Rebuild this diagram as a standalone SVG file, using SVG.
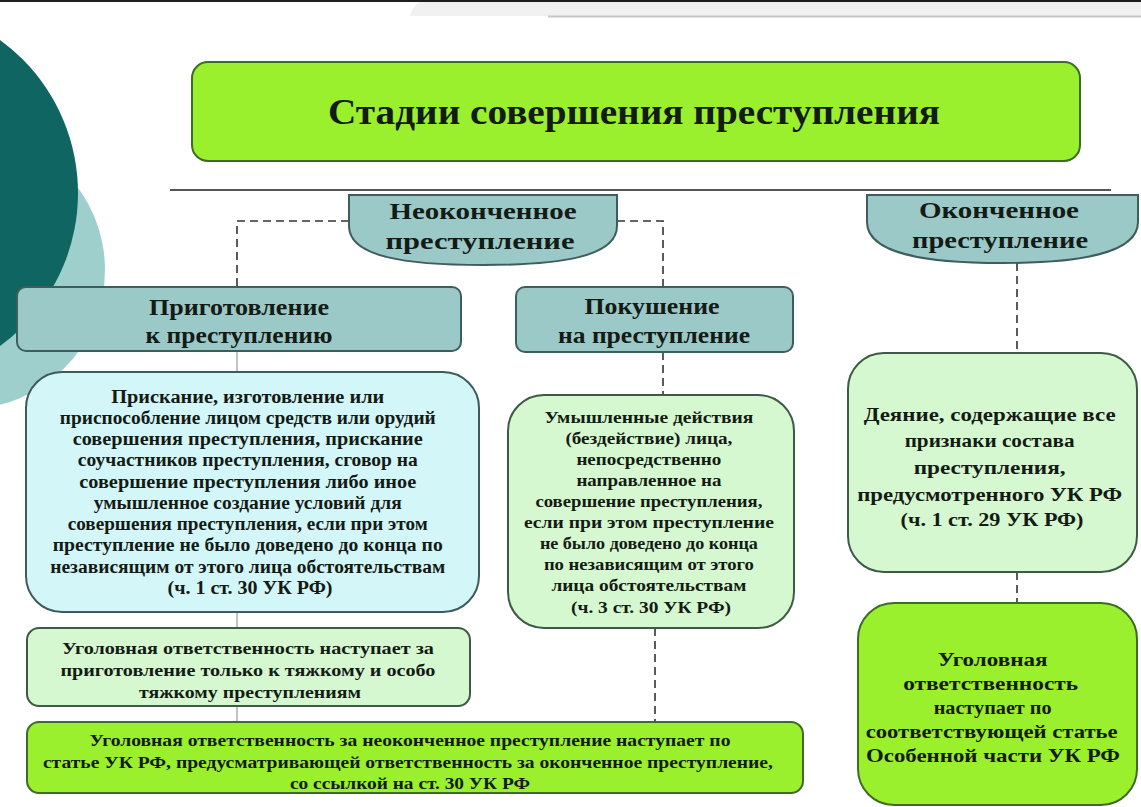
<svg xmlns="http://www.w3.org/2000/svg" width="1141" height="807" viewBox="0 0 1141 807">
<style>
.t{font-family:"Liberation Serif","DejaVu Serif",serif;font-weight:bold;fill:#141a14;text-anchor:middle}
.hdr{fill:#9bc9c8;stroke:#3e5e5c;stroke-width:2}
.lime{fill:#9af02c;stroke:#3f6a2a;stroke-width:2}
.lg{fill:#d5f8d0;stroke:#3e5a46;stroke-width:2}
.lc{fill:#d3f6f8;stroke:#3e5a5a;stroke-width:2}
.dash{fill:none;stroke:#333;stroke-width:1.6;stroke-dasharray:8 5}
.sol{fill:none;stroke:#9a9a9a;stroke-width:1.2}
</style>
<rect x="0" y="0" width="1141" height="807" fill="#ffffff"/>
<g id="decor">
<rect x="0" y="0" width="1141" height="2" fill="#1e1e1e"/>
<path d="M420,2 H1141 V16 H410 Q412,6 420,2 Z" fill="#f1f1f1"/>
<line x1="548" y1="16.5" x2="1141" y2="16.5" stroke="#c6c6c6" stroke-width="2"/>
<circle cx="-34" cy="270" r="139" fill="#9fcfcd"/>
<circle cx="-111" cy="193" r="189" fill="#0e6561"/>
<line x1="170" y1="190" x2="1111" y2="190" stroke="#555" stroke-width="2"/>
</g>
<g id="connectors">
<polyline class="dash" points="349,221 237,221 237,287"/>
<polyline class="dash" points="617,221 663,221 663,287"/>
<line class="dash" x1="663" y1="352" x2="663" y2="395"/>
<line class="dash" x1="655" y1="628" x2="655" y2="722"/>
<line class="dash" x1="1017" y1="263" x2="1017" y2="353"/>
<line class="dash" x1="1017" y1="572" x2="1017" y2="603"/>
<line class="sol" x1="237" y1="352" x2="237" y2="372"/>
<line class="sol" x1="237" y1="612" x2="237" y2="628"/>
<line class="sol" x1="237" y1="706" x2="237" y2="722"/>
</g>
<g id="title">
<rect class="lime" x="192" y="62" width="888" height="99" rx="16"/>
<text class="t" x="634" y="124" font-size="35" textLength="612" lengthAdjust="spacingAndGlyphs">Стадии совершения преступления</text>
</g>
<g id="unfinished">
<path class="hdr" d="M349,195 H617 V226 C617,257 560,265 483,265 C406,265 349,257 349,226 Z"/>
<text class="t" font-size="24"><tspan x="483" y="219" textLength="187" lengthAdjust="spacingAndGlyphs">Неоконченное</tspan><tspan x="480" y="249" textLength="189" lengthAdjust="spacingAndGlyphs">преступление</tspan></text>
</g>
<g id="finished">
<path class="hdr" d="M867,195 H1138 V222 C1138,254 1078,263 1002,263 C926,263 867,254 867,222 Z"/>
<text class="t" font-size="24"><tspan x="999" y="218" textLength="160" lengthAdjust="spacingAndGlyphs">Оконченное</tspan><tspan x="1000" y="248" textLength="176" lengthAdjust="spacingAndGlyphs">преступление</tspan></text>
</g>
<g id="preparation">
<rect class="hdr" x="17" y="287" width="444" height="64" rx="9"/>
<text class="t" font-size="23"><tspan x="239" y="315" textLength="180" lengthAdjust="spacingAndGlyphs">Приготовление</tspan><tspan x="239" y="343" textLength="187" lengthAdjust="spacingAndGlyphs">к преступлению</tspan></text>
</g>
<g id="attempt">
<rect class="hdr" x="516" y="287" width="277" height="65" rx="9"/>
<text class="t" font-size="23"><tspan x="652" y="314" textLength="135" lengthAdjust="spacingAndGlyphs">Покушение</tspan><tspan x="654" y="343" textLength="192" lengthAdjust="spacingAndGlyphs">на преступление</tspan></text>
</g>
<g id="prep-def">
<rect class="lc" x="26" y="372" width="453" height="240" rx="36"/>
<text class="t" font-size="18">
<tspan x="250" y="403" textLength="273" lengthAdjust="spacingAndGlyphs">Прискание, изготовление или</tspan>
<tspan x="250" y="424" textLength="376" lengthAdjust="spacingAndGlyphs">приспособление лицом средств или орудий</tspan>
<tspan x="250" y="445" textLength="350" lengthAdjust="spacingAndGlyphs">совершения преступления, прискание</tspan>
<tspan x="250" y="466" textLength="340" lengthAdjust="spacingAndGlyphs">соучастников преступления, сговор на</tspan>
<tspan x="250" y="488" textLength="337" lengthAdjust="spacingAndGlyphs">совершение преступления либо иное</tspan>
<tspan x="250" y="509" textLength="308" lengthAdjust="spacingAndGlyphs">умышленное создание условий для</tspan>
<tspan x="250" y="530" textLength="360" lengthAdjust="spacingAndGlyphs">совершения преступления, если при этом</tspan>
<tspan x="250" y="551" textLength="390" lengthAdjust="spacingAndGlyphs">преступление не было доведено до конца по</tspan>
<tspan x="250" y="573" textLength="395" lengthAdjust="spacingAndGlyphs">независящим от этого лица обстоятельствам</tspan>
<tspan x="250" y="594" textLength="165" lengthAdjust="spacingAndGlyphs">(ч. 1 ст. 30 УК РФ)</tspan>
</text>
</g>
<g id="attempt-def">
<rect class="lg" x="508" y="395" width="286" height="233" rx="36"/>
<text class="t" font-size="17">
<tspan x="651" y="423" textLength="209" lengthAdjust="spacingAndGlyphs">Умышленные действия</tspan>
<tspan x="651" y="444" textLength="167" lengthAdjust="spacingAndGlyphs">(бездействие) лица,</tspan>
<tspan x="651" y="465" textLength="145" lengthAdjust="spacingAndGlyphs">непосредственно</tspan>
<tspan x="651" y="486" textLength="145" lengthAdjust="spacingAndGlyphs">направленное на</tspan>
<tspan x="651" y="507" textLength="227" lengthAdjust="spacingAndGlyphs">совершение преступления,</tspan>
<tspan x="651" y="528" textLength="250" lengthAdjust="spacingAndGlyphs">если при этом преступление</tspan>
<tspan x="651" y="549" textLength="218" lengthAdjust="spacingAndGlyphs">не было доведено до конца</tspan>
<tspan x="651" y="570" textLength="210" lengthAdjust="spacingAndGlyphs">по независящим от этого</tspan>
<tspan x="651" y="591" textLength="195" lengthAdjust="spacingAndGlyphs">лица обстоятельствам</tspan>
<tspan x="651" y="613" textLength="160" lengthAdjust="spacingAndGlyphs">(ч. 3 ст. 30 УК РФ)</tspan>
</text>
</g>
<g id="finished-def">
<rect class="lg" x="848" y="353" width="289" height="219" rx="36"/>
<text class="t" font-size="19">
<tspan x="992" y="421" textLength="252" lengthAdjust="spacingAndGlyphs">Деяние, содержащие все</tspan>
<tspan x="992" y="447" textLength="170" lengthAdjust="spacingAndGlyphs">признаки состава</tspan>
<tspan x="992" y="474" textLength="152" lengthAdjust="spacingAndGlyphs">преступления,</tspan>
<tspan x="992" y="501" textLength="265" lengthAdjust="spacingAndGlyphs">предусмотренного УК РФ</tspan>
<tspan x="992" y="526" textLength="183" lengthAdjust="spacingAndGlyphs">(ч. 1 ст. 29 УК РФ)</tspan>
</text>
</g>
<g id="prep-liability">
<rect class="lg" x="27" y="628" width="443" height="78" rx="12"/>
<text class="t" font-size="17">
<tspan x="250" y="654" textLength="372" lengthAdjust="spacingAndGlyphs">Уголовная ответственность наступает за</tspan>
<tspan x="250" y="676" textLength="375" lengthAdjust="spacingAndGlyphs">приготовление только к тяжкому и особо</tspan>
<tspan x="250" y="698" textLength="222" lengthAdjust="spacingAndGlyphs">тяжкому преступлениям</tspan>
</text>
</g>
<g id="unfinished-liability">
<rect class="lime" x="27" y="722" width="776" height="71" rx="12"/>
<text class="t" font-size="16.5">
<tspan x="412" y="746" textLength="641" lengthAdjust="spacingAndGlyphs">Уголовная ответственность за неоконченное преступление наступает  по</tspan>
<tspan x="410" y="768" textLength="730" lengthAdjust="spacingAndGlyphs">статье УК РФ, предусматривающей ответственность за оконченное преступление,</tspan>
<tspan x="410" y="789" textLength="240" lengthAdjust="spacingAndGlyphs">со ссылкой  на ст. 30 УК РФ</tspan>
</text>
</g>
<g id="finished-liability">
<rect class="lime" x="858" y="603" width="279" height="202" rx="36"/>
<text class="t" font-size="19">
<tspan x="995" y="666" textLength="110" lengthAdjust="spacingAndGlyphs">Уголовная</tspan>
<tspan x="993" y="690" textLength="175" lengthAdjust="spacingAndGlyphs">ответственность</tspan>
<tspan x="995" y="714" textLength="118" lengthAdjust="spacingAndGlyphs">наступает по</tspan>
<tspan x="994" y="738" textLength="252" lengthAdjust="spacingAndGlyphs">соответствующей статье</tspan>
<tspan x="993" y="762" textLength="254" lengthAdjust="spacingAndGlyphs">Особенной части УК РФ</tspan>
</text>
</g>
</svg>
